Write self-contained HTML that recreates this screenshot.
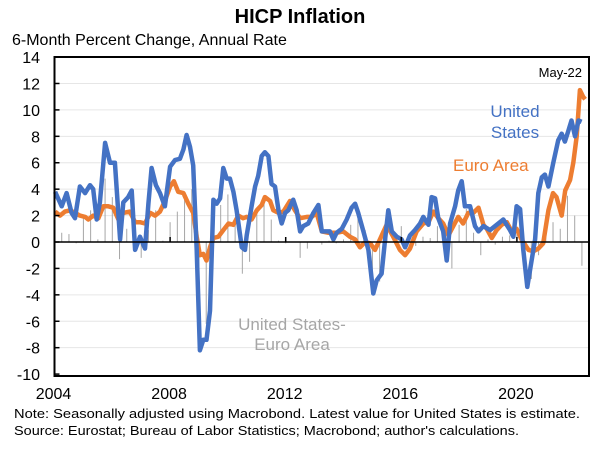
<!DOCTYPE html>
<html><head><meta charset="utf-8">
<style>
body{margin:0;background:#fff;width:600px;height:446px;overflow:hidden;font-family:"Liberation Sans",Arial,sans-serif}
svg text{font-family:"Liberation Sans",Arial,sans-serif}
</style></head>
<body>
<svg id="chart" width="600" height="446" viewBox="0 0 600 446" xmlns="http://www.w3.org/2000/svg">
<text x="300" y="23" font-size="20" font-weight="bold" text-anchor="middle">HICP Inflation</text>
<text x="12" y="45" font-size="16">6-Month Percent Change, Annual Rate</text>
<g id="grid"></g>
<g id="bars"></g>
<g id="lines"></g>
<g id="axes"></g>
<text x="582" y="77" font-size="13" text-anchor="end">May-22</text>
<text x="515" y="117" font-size="17" fill="#4472C4" text-anchor="middle">United</text>
<text x="515" y="138" font-size="17" fill="#4472C4" text-anchor="middle">States</text>
<text x="453" y="171" font-size="17" fill="#ED7D31">Euro Area</text>
<text x="292" y="330" font-size="17" fill="#A6A6A6" text-anchor="middle">United States-</text>
<text x="292" y="350" font-size="17" fill="#A6A6A6" text-anchor="middle">Euro Area</text>
<text x="14" y="418" font-size="13" textLength="566" lengthAdjust="spacingAndGlyphs">Note:  Seasonally adjusted using Macrobond.  Latest value for United States is estimate.</text>
<text x="14" y="435" font-size="13" textLength="505" lengthAdjust="spacingAndGlyphs">Source: Eurostat; Bureau of Labor Statistics; Macrobond;  author's calculations.</text>
</svg>
<script>
const yTicks=[14,12,10,8,6,4,2,0,-2,-4,-6,-8,-10];
const xTickYears=[2004,2008,2012,2016,2020];
const usYears=[2004.02,2004.25,2004.42,2004.59,2004.71,2004.88,2005.06,2005.23,2005.34,2005.46,2005.57,2005.75,2005.92,2006.09,2006.27,2006.38,2006.55,2006.67,2006.79,2006.96,2007.13,2007.25,2007.36,2007.51,2007.65,2007.82,2008.0,2008.17,2008.34,2008.46,2008.57,2008.69,2008.8,2008.92,2009.03,2009.15,2009.26,2009.38,2009.5,2009.61,2009.73,2009.84,2009.96,2010.07,2010.19,2010.3,2010.48,2010.59,2010.65,2010.82,2010.94,2011.05,2011.17,2011.28,2011.4,2011.51,2011.63,2011.75,2011.86,2011.98,2012.09,2012.26,2012.38,2012.5,2012.61,2012.78,2012.96,2013.13,2013.25,2013.36,2013.53,2013.65,2013.76,2013.94,2014.11,2014.28,2014.4,2014.51,2014.69,2014.86,2015.03,2015.15,2015.32,2015.44,2015.55,2015.67,2015.84,2016.01,2016.13,2016.3,2016.47,2016.65,2016.76,2016.94,2017.05,2017.17,2017.28,2017.45,2017.57,2017.69,2017.86,2017.97,2018.09,2018.2,2018.38,2018.55,2018.67,2018.84,2019.07,2019.3,2019.53,2019.76,2019.88,2019.99,2020.11,2020.22,2020.36,2020.51,2020.63,2020.74,2020.86,2020.97,2021.09,2021.26,2021.43,2021.55,2021.66,2021.78,2021.89,2022.01,2022.13,2022.24,2022.36];
const usValues=[3.8,2.7,3.7,2.2,1.8,4.2,3.7,4.3,4.0,1.7,3.0,7.5,6.0,6.0,0.2,3.0,3.4,3.9,-0.6,0.4,-0.5,2.9,5.6,4.3,3.7,2.7,5.7,6.2,6.3,7.0,8.1,7.2,5.8,-0.6,-8.2,-7.4,-7.4,-5.2,3.2,2.9,3.3,5.6,4.8,4.8,3.8,2.4,-0.4,-0.6,0.5,2.7,4.2,5.0,6.5,6.8,6.5,4.4,4.2,2.4,1.4,2.2,2.4,3.2,2.4,0.8,1.2,1.4,2.2,2.8,0.8,0.8,0.8,0.2,0.7,1.0,1.7,2.6,2.9,2.2,0.8,-0.6,-3.9,-2.9,-2.4,0.2,2.4,0.8,0.4,0.2,-0.4,0.5,0.9,1.4,1.9,1.3,3.4,3.3,1.8,0.8,-1.4,1.4,2.7,3.9,4.6,2.7,2.7,1.2,0.8,1.2,0.9,1.3,1.7,0.9,0.4,2.7,2.5,-0.6,-3.4,-1.4,0.2,3.7,4.9,5.1,4.2,6.0,7.7,8.2,7.6,8.4,9.2,8.0,9.2,9.1];
const euYears=[2004.02,2004.19,2004.36,2004.54,2004.71,2004.88,2005.06,2005.17,2005.34,2005.52,2005.69,2005.86,2006.03,2006.21,2006.38,2006.61,2006.79,2006.96,2007.13,2007.31,2007.48,2007.65,2007.82,2008.0,2008.13,2008.28,2008.46,2008.63,2008.8,2008.92,2009.03,2009.15,2009.26,2009.38,2009.5,2009.67,2009.84,2010.02,2010.19,2010.36,2010.53,2010.65,2010.82,2011.0,2011.17,2011.28,2011.46,2011.57,2011.75,2011.92,2012.15,2012.32,2012.5,2012.73,2012.9,2013.07,2013.25,2013.48,2013.76,2013.99,2014.22,2014.4,2014.57,2014.75,2014.92,2015.09,2015.26,2015.49,2015.72,2015.95,2016.13,2016.3,2016.53,2016.76,2016.94,2017.11,2017.28,2017.45,2017.63,2017.8,2017.97,2018.14,2018.32,2018.49,2018.67,2018.84,2018.96,2019.13,2019.3,2019.47,2019.65,2019.82,2019.99,2020.16,2020.4,2020.57,2020.74,2020.91,2021.09,2021.25,2021.37,2021.55,2021.67,2021.84,2021.95,2022.07,2022.18,2022.29,2022.36];
const euValues=[2.3,2.0,2.3,2.4,2.2,2.0,1.9,1.7,2.0,1.8,2.7,2.7,2.6,1.7,2.2,2.3,1.5,1.5,1.4,2.2,2.0,2.3,3.1,4.2,4.6,3.8,3.7,2.9,2.2,0.4,-1.0,-0.9,-1.4,-0.4,0.3,0.4,0.9,1.4,1.3,2.0,1.8,1.9,1.7,2.4,2.8,3.4,3.1,2.4,2.2,2.3,3.1,2.4,1.8,1.9,1.9,2.2,0.8,0.7,0.7,0.8,0.4,0.2,-0.4,0.0,-0.1,-0.6,0.2,1.3,0.4,-0.6,-1.0,-0.5,0.8,1.4,1.5,2.3,1.8,1.4,0.5,1.2,1.9,1.4,2.2,2.2,2.6,1.3,1.0,0.3,0.9,1.3,1.5,0.8,1.0,0.2,-0.6,-0.7,-0.5,-0.1,2.4,3.7,3.4,2.0,3.9,4.7,6.0,8.0,11.5,11.0,10.8];
const diffYears=[2004.0,2004.25,2004.5,2004.75,2005.0,2005.25,2005.5,2005.75,2006.0,2006.25,2006.5,2006.75,2007.0,2007.25,2007.5,2007.75,2008.0,2008.25,2008.5,2008.75,2009.0,2009.25,2009.5,2009.75,2010.0,2010.25,2010.5,2010.75,2011.0,2011.25,2011.5,2011.75,2012.0,2012.25,2012.5,2012.75,2013.0,2013.25,2013.5,2013.75,2014.0,2014.25,2014.5,2014.75,2015.0,2015.25,2015.5,2015.75,2016.0,2016.25,2016.5,2016.75,2017.0,2017.25,2017.5,2017.75,2018.0,2018.25,2018.5,2018.75,2019.0,2019.25,2019.5,2019.75,2020.0,2020.25,2020.5,2020.75,2021.0,2021.25,2021.5,2021.75,2022.0,2022.25];
const diffValues=[1.5,0.7,0.6,-0.1,2.0,2.4,0.2,4.8,3.4,-1.3,1.0,-0.5,-1.2,0.9,2.4,0.1,1.5,2.3,3.8,4.0,-7.1,-6.2,2.9,2.8,3.6,1.6,-2.4,-1.5,2.4,3.5,1.7,0.1,-0.1,0.0,-1.2,-0.5,0.0,-0.2,0.1,-0.1,0.2,1.3,2.2,0.9,-3.0,-3.0,1.5,0.0,1.2,0.5,-0.3,0.4,0.3,1.2,-0.5,-2.0,1.3,2.5,0.7,-1.0,0.2,-0.2,0.4,0.5,1.0,-0.5,-2.8,-1.0,2.0,1.5,1.0,3.5,2.0,-1.8];

const L=54.5,R=589,T=57,B=376,ZERO=242,PXU=13.21,PXY=28.9;
function xs(yr){return L+(yr-2004)*PXY;}
function ys(v){return ZERO-v*PXU;}
const NS="http://www.w3.org/2000/svg";
function mk(tag,attrs,parent){const e=document.createElementNS(NS,tag);for(const k in attrs)e.setAttribute(k,attrs[k]);parent.appendChild(e);return e;}
const grid=document.getElementById('grid'),bars=document.getElementById('bars'),lines=document.getElementById('lines'),axes=document.getElementById('axes');
yTicks.forEach(v=>{
  if(v!==0&&v!==14&&v!==-10){const g=mk('line',{x1:L,x2:R,y1:ys(v),y2:ys(v),stroke:'#E6E6E6','stroke-width':1},grid);
  
  }
  const t=mk('text',{x:40,y:ys(v)+6,'font-size':16,'text-anchor':'end'},axes);t.textContent=v;
  
  
  const tk=mk('line',{x1:L,x2:L+5,y1:ys(v),y2:ys(v),stroke:'#000','stroke-width':1.5},axes);
  
  
});
diffYears.forEach((yr,i)=>{
  const v=diffValues[i];
  const b=mk('line',{x1:xs(yr),x2:xs(yr),y1:ys(0),y2:ys(v),stroke:'#A6A6A6','stroke-width':1},bars);
  
  
});
function path(yrs,vals){return yrs.map((y,i)=>(i?'L':'M')+xs(y).toFixed(1)+','+ys(vals[i]).toFixed(1)).join(' ');}
const eu=mk('path',{d:path(euYears,euValues),fill:'none',stroke:'#ED7D31','stroke-width':4.5,'stroke-linejoin':'round'},lines);


const us=mk('path',{d:path(usYears,usValues),fill:'none',stroke:'#4472C4','stroke-width':4.5,'stroke-linejoin':'round'},lines);


const z=mk('line',{x1:L,x2:R,y1:ZERO,y2:ZERO,stroke:'#000','stroke-width':1.5},axes);


xTickYears.forEach(yr=>{
  const tk=mk('line',{x1:xs(yr),x2:xs(yr),y1:ZERO,y2:ZERO-5,stroke:'#000','stroke-width':1.5},axes);
  
  
  const t=mk('text',{x:xs(yr)-1,y:399,'font-size':16,'text-anchor':'middle'},axes);t.textContent=yr;
  
  
});
const fr=mk('rect',{x:L,y:T,width:R-L,height:B-T,fill:'none',stroke:'#000','stroke-width':2},axes);


</script>
</body></html>
